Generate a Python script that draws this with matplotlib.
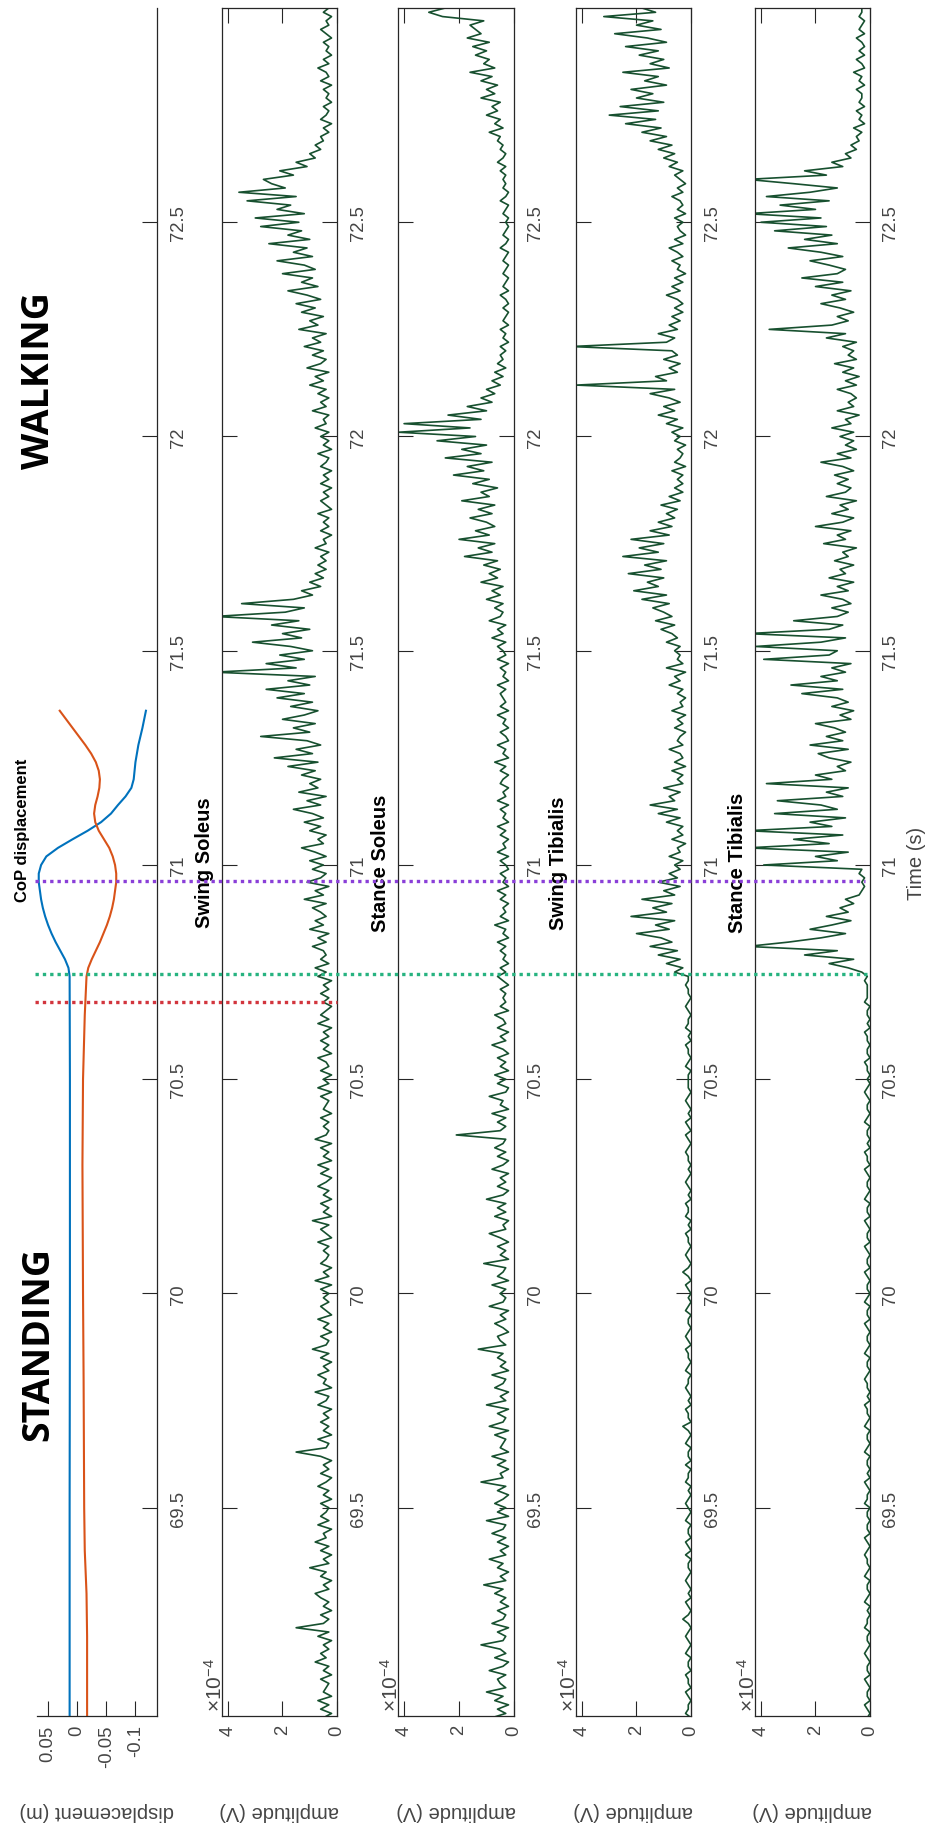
import numpy as np
import matplotlib
matplotlib.use("Agg")
import matplotlib.pyplot as plt
import matplotlib.transforms as mtransforms
from matplotlib.lines import Line2D

plt.rcParams['font.family'] = ['Liberation Sans', 'DejaVu Sans']
plt.rcParams['mathtext.fontset'] = 'custom'
plt.rcParams['mathtext.rm'] = 'Liberation Sans'

## centre of pressure displacement (m)
cop_time_a = [69.01, 69.5, 70.0, 70.5, 70.74, 70.76, 70.78, 70.80, 70.82, 70.84, 70.86,
              70.88, 70.90, 70.92, 70.94, 70.96, 70.98, 71.00, 71.02, 71.04, 71.06,
              71.08, 71.10, 71.12, 71.14, 71.16, 71.18, 71.20, 71.24, 71.28, 71.32, 71.36]
cop_a = [0.013, 0.013, 0.0125, 0.0125, 0.013, 0.015, 0.021, 0.029, 0.037, 0.044, 0.050,
         0.055, 0.059, 0.062, 0.064, 0.066, 0.066, 0.062, 0.053, 0.033, 0.008,
         -0.018, -0.041, -0.058, -0.070, -0.083, -0.093, -0.097, -0.100, -0.105, -0.112, -0.118]

cop_time_b = [69.01, 69.2, 69.3, 69.4, 69.5, 69.8, 70.0, 70.3, 70.5, 70.65, 70.74, 70.76,
              70.78, 70.80, 70.82, 70.84, 70.86, 70.88, 70.90, 70.92, 70.94, 70.96, 70.98,
              71.00, 71.02, 71.04, 71.06, 71.08, 71.10, 71.12, 71.14, 71.16, 71.18, 71.20,
              71.22, 71.24, 71.26, 71.28, 71.30, 71.32, 71.34, 71.36]
cop_b = [-0.017, -0.017, -0.016, -0.013, -0.012, -0.011, -0.010, -0.009, -0.010, -0.013,
         -0.016, -0.019, -0.025, -0.032, -0.039, -0.045, -0.051, -0.056, -0.060, -0.063,
         -0.065, -0.067, -0.067, -0.065, -0.061, -0.055, -0.046, -0.037, -0.031, -0.029,
         -0.031, -0.035, -0.038, -0.039, -0.037, -0.032, -0.024, -0.014, -0.003, 0.008,
         0.019, 0.030]

## event markers (s)
event_times = [70.68, 70.745, 70.962]
event_colors = ['#d2353d', '#27b380', '#8a3fd8']
event_ends = [337, 869, 865]

## rectified EMG, one value every 10 ms from 69.00 s, units of 1e-5 V
emg_t0 = 69.0
emg_dt = 0.01

swing_soleus = [
    3, 5, 2, 6, 3, 7, 2, 5, 4, 3,
    6, 2, 5, 3, 8, 4, 6, 3, 5, 2,
    7, 3, 15, 5, 3, 6, 2, 5, 3, 6,
    8, 3, 5, 2, 6, 4, 10, 3, 5, 2,
    6, 3, 8, 4, 5, 2, 7, 3, 6, 4,
    3, 6, 2, 5, 3, 7, 4, 2, 6, 3,
    5, 2, 6, 15, 4, 3, 7, 2, 5, 3,
    6, 3, 5, 2, 7, 4, 3, 8, 2, 5,
    4, 7, 3, 5, 2, 6, 3, 9, 4, 3,
    6, 2, 5, 3, 7, 2, 4, 6, 3, 5,
    3, 6, 2, 8, 3, 5, 2, 6, 4, 3,
    5, 3, 7, 2, 4, 6, 3, 9, 2, 5,
    3, 6, 2, 5, 3, 7, 4, 2, 6, 3,
    7, 2, 5, 3, 6, 2, 8, 4, 3, 5,
    3, 6, 2, 5, 4, 3, 6, 2, 7, 3,
    5, 2, 6, 3, 4, 7, 2, 5, 3, 6,
    3, 5, 2, 7, 3, 6, 4, 2, 5, 3,
    6, 3, 5, 2, 7, 4, 8, 3, 6, 4,
    5, 9, 4, 7, 3, 10, 5, 8, 4, 6,
    9, 4, 12, 5, 8, 3, 11, 6, 4, 9,
    5, 10, 4, 8, 13, 5, 7, 4, 10, 6,
    12, 5, 9, 16, 6, 11, 4, 14, 7, 10,
    6, 13, 8, 18, 7, 23, 9, 15, 6, 11,
    28, 10, 16, 8, 20, 12, 7, 17, 9, 22,
    12, 26, 10, 18, 8, 45, 15, 26, 12, 21,
    9, 17, 31, 13, 20, 10, 24, 14, 45, 19,
    12, 35, 16, 9, 13, 6, 10, 5, 8, 4,
    7, 4, 6, 3, 8, 4, 5, 2, 6, 3,
    5, 3, 7, 2, 4, 6, 3, 5, 2, 6,
    3, 5, 2, 6, 4, 3, 7, 2, 5, 3,
    6, 3, 8, 4, 5, 3, 9, 4, 6, 3,
    7, 4, 10, 5, 8, 3, 11, 6, 4, 9,
    5, 12, 6, 9, 4, 14, 7, 10, 5, 13,
    8, 15, 6, 11, 18, 7, 13, 9, 20, 8,
    12, 22, 9, 16, 11, 25, 10, 18, 13, 28,
    14, 30, 12, 22, 17, 33, 15, 36, 19, 24,
    27, 16, 21, 11, 15, 8, 10, 6, 8, 5,
    6, 3, 5, 2, 6, 4, 3, 5, 2, 4,
    3, 5, 2, 6, 3, 4, 7, 3, 5, 2,
    4, 3, 5, 2, 4, 6, 3, 4, 2, 5,
    3]

stance_soleus = [
    4, 8, 3, 6, 2, 7, 4, 10, 3, 5,
    6, 3, 9, 4, 2, 7, 3, 5, 12, 4,
    3, 6, 2, 8, 4, 3, 6, 2, 5, 3,
    7, 4, 11, 3, 5, 2, 6, 4, 9, 3,
    5, 2, 6, 3, 8, 4, 3, 10, 2, 6,
    3, 7, 4, 2, 6, 3, 12, 4, 5, 2,
    6, 3, 8, 2, 5, 4, 3, 7, 2, 9,
    4, 3, 6, 2, 10, 3, 5, 2, 7, 4,
    3, 8, 2, 5, 3, 6, 4, 13, 3, 5,
    6, 2, 4, 7, 3, 5, 2, 9, 4, 3,
    5, 3, 8, 2, 6, 4, 3, 11, 2, 5,
    3, 6, 2, 5, 9, 3, 4, 2, 7, 3,
    6, 3, 10, 4, 2, 6, 3, 5, 2, 8,
    4, 2, 6, 3, 7, 4, 3, 21, 5, 3,
    6, 3, 8, 2, 5, 4, 9, 3, 2, 6,
    3, 7, 2, 5, 3, 6, 2, 4, 8, 3,
    5, 2, 6, 3, 4, 7, 2, 5, 3, 4,
    3, 5, 2, 4, 6, 3, 5, 2, 4, 3,
    5, 3, 6, 2, 4, 3, 7, 2, 5, 3,
    4, 2, 5, 3, 6, 2, 4, 3, 5, 2,
    3, 5, 2, 6, 3, 4, 2, 5, 3, 6,
    2, 4, 3, 5, 2, 6, 3, 4, 2, 5,
    4, 2, 5, 3, 7, 2, 4, 3, 6, 2,
    3, 5, 2, 4, 3, 6, 2, 5, 3, 4,
    5, 3, 6, 2, 4, 3, 5, 2, 6, 3,
    4, 6, 3, 8, 4, 6, 3, 9, 5, 4,
    7, 4, 10, 5, 8, 4, 12, 6, 9, 5,
    11, 6, 18, 8, 13, 7, 20, 9, 14, 7,
    10, 16, 8, 13, 7, 19, 9, 12, 6, 15,
    9, 22, 11, 17, 8, 25, 12, 19, 10, 28,
    14, 42, 16, 40, 12, 24, 10, 17, 8, 12,
    7, 10, 5, 8, 4, 7, 3, 6, 4, 5,
    3, 5, 2, 4, 3, 5, 2, 4, 3, 2,
    4, 2, 3, 5, 2, 4, 3, 2, 4, 3,
    2, 4, 3, 2, 5, 3, 2, 4, 3, 2,
    3, 2, 4, 3, 2, 5, 3, 2, 4, 3,
    4, 3, 5, 3, 6, 4, 3, 5, 4, 6,
    5, 9, 4, 7, 5, 10, 6, 8, 5, 12,
    7, 10, 6, 12, 8, 16, 7, 11, 9, 14,
    10, 15, 9, 17, 12, 14, 16, 11, 26, 31,
    25]

swing_tibialis = [
    1, 0, 2, 1, 1, 0, 1, 2, 0, 1,
    1, 2, 0, 1, 1, 0, 2, 1, 0, 1,
    2, 1, 0, 1, 3, 1, 0, 1, 2, 0,
    1, 0, 1, 2, 1, 0, 1, 1, 0, 2,
    0, 1, 2, 0, 1, 1, 0, 2, 1, 0,
    1, 2, 1, 0, 1, 0, 2, 1, 1, 0,
    2, 0, 1, 1, 0, 2, 1, 0, 1, 3,
    0, 1, 1, 2, 0, 1, 0, 1, 2, 1,
    1, 0, 2, 1, 0, 1, 1, 2, 0, 1,
    2, 1, 0, 1, 1, 0, 2, 1, 0, 1,
    0, 1, 2, 0, 1, 3, 1, 0, 1, 2,
    1, 0, 1, 1, 2, 0, 1, 0, 2, 1,
    1, 2, 0, 1, 0, 1, 2, 1, 0, 1,
    0, 1, 1, 2, 1, 0, 1, 2, 0, 1,
    2, 0, 1, 0, 1, 2, 1, 0, 1, 1,
    1, 1, 0, 2, 1, 0, 1, 1, 2, 0,
    1, 0, 2, 1, 1, 0, 1, 2, 1, 0,
    1, 1, 2, 1, 1, 6, 3, 9, 4, 12,
    5, 15, 7, 11, 20, 8, 13, 6, 22, 9,
    14, 7, 18, 6, 10, 4, 12, 5, 8, 4,
    6, 3, 8, 4, 5, 2, 7, 3, 5, 3,
    9, 4, 12, 5, 15, 6, 8, 4, 10, 3,
    5, 3, 7, 2, 6, 3, 4, 8, 3, 5,
    4, 2, 6, 3, 5, 2, 7, 3, 4, 2,
    5, 3, 8, 4, 6, 2, 9, 3, 5, 4,
    6, 4, 9, 5, 7, 11, 6, 13, 7, 10,
    14, 8, 18, 9, 21, 12, 16, 10, 23, 11,
    17, 9, 25, 12, 19, 10, 22, 8, 15, 7,
    12, 6, 9, 5, 11, 4, 8, 3, 6, 3,
    5, 3, 7, 2, 6, 4, 3, 5, 2, 6,
    4, 7, 3, 9, 5, 12, 6, 10, 4, 8,
    15, 6, 42, 9, 13, 5, 8, 4, 10, 5,
    7, 44, 9, 6, 12, 5, 8, 4, 7, 3,
    6, 3, 5, 9, 4, 7, 3, 6, 2, 5,
    4, 7, 3, 5, 8, 3, 6, 2, 4, 5,
    3, 6, 2, 5, 3, 4, 7, 3, 5, 2,
    4, 6, 3, 8, 5, 10, 6, 12, 7, 15,
    9, 18, 11, 24, 13, 30, 12, 26, 10, 20,
    14, 22, 9, 17, 12, 25, 8, 15, 10, 19,
    12, 24, 9, 16, 28, 11, 20, 14, 32, 13,
    18]

stance_tibialis = [
    1, 1, 0, 1, 2, 0, 1, 1, 0, 1,
    2, 0, 1, 1, 0, 1, 2, 1, 0, 1,
    1, 0, 2, 1, 1, 0, 1, 0, 2, 1,
    0, 1, 1, 0, 2, 1, 0, 1, 1, 2,
    1, 0, 1, 2, 0, 1, 1, 0, 1, 1,
    0, 2, 1, 1, 0, 1, 2, 0, 1, 0,
    1, 1, 0, 2, 1, 0, 1, 1, 0, 2,
    1, 0, 1, 1, 2, 0, 1, 0, 1, 1,
    2, 1, 0, 1, 1, 0, 2, 1, 0, 1,
    1, 0, 1, 2, 0, 1, 1, 0, 2, 1,
    0, 1, 1, 0, 1, 2, 0, 1, 1, 0,
    1, 2, 0, 1, 1, 0, 1, 2, 0, 1,
    1, 0, 2, 1, 0, 1, 1, 0, 1, 2,
    0, 1, 1, 2, 0, 1, 0, 1, 1, 0,
    2, 1, 0, 1, 1, 0, 1, 2, 1, 0,
    1, 0, 1, 1, 2, 0, 1, 1, 0, 1,
    1, 2, 0, 1, 0, 1, 1, 0, 2, 1,
    1, 1, 1, 2, 1, 3, 8, 15, 6, 24,
    12, 45, 30, 18, 9, 22, 14, 7, 16, 8,
    11, 6, 9, 4, 3, 2, 3, 2, 4, 3,
    39, 12, 20, 8, 45, 15, 28, 10, 45, 14,
    22, 9, 35, 12, 18, 34, 10, 16, 8, 38,
    14, 20, 9, 12, 7, 15, 19, 8, 22, 10,
    16, 9, 13, 20, 7, 11, 6, 14, 8, 12,
    25, 10, 29, 12, 18, 9, 14, 7, 39, 15,
    12, 42, 18, 9, 45, 15, 10, 28, 12, 8,
    14, 7, 10, 18, 8, 12, 6, 15, 9, 11,
    6, 13, 8, 10, 5, 17, 9, 12, 7, 20,
    10, 6, 14, 8, 11, 5, 16, 9, 7, 12,
    8, 13, 6, 10, 18, 7, 12, 5, 9, 6,
    11, 6, 14, 7, 9, 4, 12, 6, 8, 5,
    7, 12, 5, 9, 4, 10, 6, 13, 5, 8,
    6, 10, 5, 16, 9, 37, 14, 8, 12, 6,
    11, 18, 9, 14, 7, 20, 10, 25, 12, 9,
    15, 22, 10, 18, 30, 12, 24, 14, 35, 16,
    40, 18, 45, 20, 33, 15, 38, 22, 12, 28,
    45, 16, 24, 10, 14, 7, 9, 5, 7, 4,
    5, 3, 6, 2, 4, 3, 5, 2, 4, 3,
    3, 5, 2, 4, 3, 6, 2, 3, 5, 2,
    4, 2, 3, 5, 2, 4, 3, 2, 4, 3,
    3]

emg_panels = [("Swing Soleus", swing_soleus), ("Stance Soleus", stance_soleus),
              ("Swing Tibialis", swing_tibialis), ("Stance Tibialis", stance_tibialis)]

time_ticks = [69.5, 70, 70.5, 71, 71.5, 72, 72.5]
time_labels = ["69.5", "70", "70.5", "71", "71.5", "72", "72.5"]
disp_ticks = [0.05, 0, -0.05, -0.1]
disp_labels = ["0.05", "0", "-0.05", "-0.1"]
amp_ticks = [4e-4, 2e-4, 0]
amp_labels = ["4", "2", "0"]

W, H = 930, 1831
TOP, BOT = 9, 1717
t_lim = (69.014, 73.0)
axis_col = '#262626'
tick_col = '#454545'
emg_col = '#17502f'
fs_tick = 13.3
fs_label = 14.5

fig = plt.figure(figsize=(W / 100, H / 100), dpi=100)


def frame(x0, x1):
    return [x0 / W, 1 - BOT / H, (x1 - x0) / W, (BOT - TOP) / H]


def style(ax, box=True):
    for s in ax.spines.values():
        s.set_color(axis_col)
        s.set_linewidth(0.9)
    if not box:
        ax.spines['top'].set_visible(False)
        ax.spines['left'].set_visible(False)
    ax.tick_params(axis='both', direction='in', length=11, width=0.8,
                   color=axis_col, labelcolor=tick_col, labelsize=fs_tick)
    ax.tick_params(axis='x', bottom=True, top=box, pad=6)
    ax.tick_params(axis='y', left=box, right=True, labelleft=False,
                   labelright=True, pad=9)
    ax.set_ylim(*t_lim)
    ax.set_yticks(time_ticks, time_labels, rotation=90, va='center', ha='left')


# CoP panel
ax0 = fig.add_axes(frame(37, 157))
ax0.plot(cop_a, cop_time_a, color='#0072BD', lw=1.5)
ax0.plot(cop_b, cop_time_b, color='#D95319', lw=1.5)
ax0.set_xlim(0.069, -0.137)
style(ax0, box=False)
ax0.set_xticks(disp_ticks, disp_labels, rotation=90)
ax0.set_xlabel("displacement (m)", rotation=180, fontsize=fs_label,
               color=tick_col, va='center')
ax0.xaxis.set_label_coords(0.5, -(1812 - BOT) / (BOT - TOP))
ax0.text(-0.117, 0.519, "CoP displacement", transform=ax0.transAxes, rotation=90,
         ha='center', va='center', fontsize=12, fontweight='bold')

# EMG panels
panel_x = [(222, 337), (398, 514), (576, 691), (755, 870)]
axes = []
for (name, vals), (x0, x1) in zip(emg_panels, panel_x):
    ax = fig.add_axes(frame(x0, x1))
    t = emg_t0 + emg_dt * np.arange(len(vals))
    ax.plot(np.array(vals) * 1e-5, t, color=emg_col, lw=1.2)
    ax.set_xlim(4.22e-4, 0)
    style(ax, box=True)
    ax.set_xticks(amp_ticks, amp_labels, rotation=90)
    ax.set_xlabel("amplitude (V)", rotation=180, fontsize=fs_label,
                  color=tick_col, va='center')
    ax.xaxis.set_label_coords(0.5, -(1812 - BOT) / (BOT - TOP))
    ax.text(-0.06, 0.003, r'$\times\mathregular{10^{-4}}$', transform=ax.transAxes,
            rotation=90, ha='center', va='bottom', fontsize=15, color=tick_col)
    ax.text(-0.155, 0.5, name, transform=ax.transAxes, rotation=90,
            ha='center', va='center', fontsize=fs_label, fontweight='bold')
    axes.append(ax)

axes[-1].yaxis.set_label_position('right')
axes[-1].set_ylabel("Time (s)", rotation=90, fontsize=fs_label, color=tick_col,
                    va='center', ha='center')
axes[-1].yaxis.set_label_coords((917 - 755) / 115, 0.5)

# gait event markers across the panels
trans = mtransforms.blended_transform_factory(fig.transFigure, ax0.transData)
for te, c, xe in zip(event_times, event_colors, event_ends):
    fig.add_artist(Line2D([35 / W, xe / W], [te, te], transform=trans, color=c,
                          lw=2.4, dashes=(1, 1.2)))

fig.text(39 / W, 1 - 381 / H, "WALKING", rotation=90, ha='center', va='center',
         fontsize=27, fontweight='bold', family='Open Sans')
fig.text(38 / W, 1 - 1344 / H, "STANDING", rotation=90, ha='center', va='center',
         fontsize=27, fontweight='bold', family='Open Sans')

fig.savefig("out.png", dpi=100)
